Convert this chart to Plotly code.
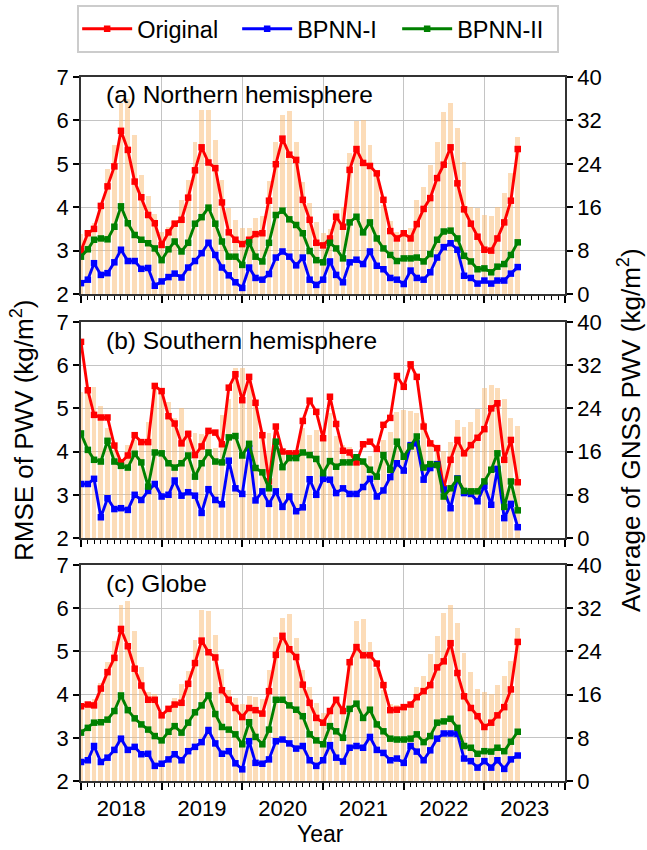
import pandas as pd
import plotly.graph_objects as go

months = pd.date_range("2018-01-01", periods=66, freq="MS")

nh_original = [3.0, 3.4, 3.5, 4.03, 4.48, 4.94, 5.76, 5.32, 4.59, 4.23, 3.82, 3.63, 3.13, 3.42, 3.62, 3.71, 4.22, 4.85, 5.38, 5.03,
               4.9, 4.11, 3.42, 3.25, 3.15, 3.25, 3.38, 3.4, 4.15, 4.99, 5.58, 5.21, 5.09,
               4.17, 3.71, 3.18, 3.12, 3.28, 3.78, 3.55, 4.86, 5.34, 5.02, 4.95, 4.78, 4.17, 3.45, 3.28, 3.4, 3.28, 3.61, 3.96,
               4.21, 4.67, 4.98, 5.38, 4.55, 3.95, 3.62, 3.32, 3.02, 3.0, 3.28, 3.65, 4.15, 5.34]
nh_bpnn1 = [2.25, 2.33, 2.71, 2.44, 2.48, 2.73, 3.02, 2.76, 2.76, 2.58, 2.6, 2.19, 2.29, 2.39, 2.47, 2.38, 2.61, 2.76, 2.94, 3.18,
            2.9, 2.61, 2.43, 2.27, 2.14, 2.61, 2.37, 2.33, 2.46, 2.84, 2.98, 2.86, 2.66, 2.84,
            2.33, 2.21, 2.33, 2.75, 2.44, 2.27, 2.73, 2.79, 2.69, 2.98, 2.65, 2.57, 2.37, 2.33, 2.23, 2.54, 2.37, 2.33, 2.5, 2.84,
            3.08, 3.17, 3.02, 2.42, 2.37, 2.24, 2.31, 2.24, 2.31, 2.31, 2.47, 2.62]
nh_bpnn2 = [2.86, 3.03, 3.25, 3.28, 3.26, 3.55, 4.02, 3.63, 3.36, 3.25, 3.17, 3.05, 2.78, 3.03, 3.21, 2.98, 3.18, 3.62, 3.77, 3.99,
            3.62, 3.21, 2.86, 2.86, 2.67, 3.19, 2.86, 2.75, 3.18, 3.82, 3.92, 3.72, 3.59,
            3.4, 2.99, 2.78, 2.73, 3.18, 3.05, 2.82, 3.65, 3.78, 3.42, 3.65, 3.28, 3.05, 2.9, 2.76, 2.82, 2.82, 2.84, 2.75, 2.92,
            3.25, 3.44, 3.46, 3.28, 2.88, 2.75, 2.57, 2.59, 2.5, 2.63, 2.69, 2.9, 3.19]
nh_pwv = [11, 11.5, 13, 16.7, 23, 27.5, 35.2, 36, 29.4, 22, 18, 14.8, 11.5, 12.4, 13.7, 17.4, 21, 28, 34, 34,
          28.4, 21, 15.8, 13.7, 12.1, 12.1, 14, 14.4, 20.9, 28.1, 33, 33.7, 28,
          20.7, 16.7, 13.2, 11.3, 12, 15.5, 16.1, 26, 31.8, 32, 27.5, 21.7, 16.4, 13.5, 11.5, 11.2, 12.1, 17.4, 19.8, 23.8,
          28.1, 33.5, 35.2, 30.6, 24.4, 16, 15.8, 14.6, 14.3, 16.1, 18.6, 22.3, 28.9]

sh_original = [6.54, 5.42, 4.85, 4.79, 4.79, 4.14, 3.75, 3.91, 4.38, 4.22, 4.22, 5.52, 5.4, 4.82, 4.65, 4.19, 4.41, 3.92, 4.12, 4.48,
               4.44, 4.17, 5.48, 5.79, 5.19, 5.73, 5.13, 4.38, 3.31, 4.58, 4.0, 3.96, 3.96,
               4.71, 5.18, 4.92, 4.31, 5.27, 4.64, 4.02, 3.98, 3.75, 4.17, 4.23, 4.06, 4.62, 4.78, 5.75, 5.5, 6.02, 5.73, 4.58,
               4.19, 4.08, 3.15, 3.81, 4.27, 3.96, 4.15, 4.32, 4.52, 5.0, 5.12, 3.81, 4.27, 3.29]
sh_bpnn1 = [3.25, 3.25, 3.37, 2.48, 2.92, 2.67, 2.69, 2.65, 3.0, 2.88, 3.09, 3.25, 2.96, 3.0, 3.33, 2.98, 3.06, 2.98, 2.58, 3.13,
            2.88, 2.78, 3.79, 3.15, 3.02, 4.08, 2.87, 3.08, 2.79, 3.08, 2.72, 2.96, 2.62, 2.71,
            3.36, 3.0, 3.37, 3.35, 3.04, 3.15, 3.02, 3.02, 3.18, 3.37, 2.96, 3.1, 3.41, 3.73, 3.56, 4.15, 4.19, 3.35, 3.62, 3.71,
            3.12, 2.69, 3.38, 3.04, 3.02, 2.85, 3.21, 2.77, 3.6, 2.46, 2.79, 2.25]
sh_bpnn2 = [4.42, 4.04, 3.81, 3.77, 4.25, 3.77, 3.67, 3.63, 3.95, 3.75, 3.19, 3.98, 3.96, 3.73, 3.63, 3.73, 3.91, 3.42, 3.73, 3.98,
            3.77, 3.75, 4.33, 4.36, 3.91, 4.18, 3.62, 3.52, 3.15, 4.23, 3.64, 3.85, 3.85,
            3.98, 3.92, 3.83, 3.5, 3.78, 3.65, 3.75, 3.75, 3.87, 3.77, 3.58, 3.42, 3.92, 3.58, 4.23, 3.88, 4.12, 4.35, 3.63,
            3.71, 3.69, 2.96, 3.15, 3.37, 3.09, 3.08, 3.08, 3.31, 3.58, 3.96, 2.72, 3.31, 2.64]
sh_pwv = [27, 28, 28, 24.4, 20.3, 16.3, 14.2, 17.2, 18.2, 18.2, 21.5, 27.7, 26.6, 25.2, 22.3, 24, 20, 19.4, 19.3, 19.7,
          16.6, 22.8, 25.8, 31.4, 31.4, 29.8, 24.9, 19.1, 19.4, 17.2, 15.4, 15.1, 15.7,
          20.3, 19.1, 20, 19.1, 23.1, 18.8, 17.2, 16.9, 15.1, 14.5, 15.1, 15.7, 18.2, 19.7, 23.4, 23.7, 23.5, 23.2, 21.5,
          17.8, 17.2, 16.2, 17.8, 21.8, 20.6, 21.5, 23.8, 27.7, 28.4, 27.7, 25.8, 22.2, 20.7]

gl_original = [3.73, 3.77, 3.75, 4.14, 4.52, 4.85, 5.52, 5.12, 4.6, 4.21, 3.88, 3.88, 3.52, 3.67, 3.77, 3.81, 4.25, 4.73, 5.25, 4.98,
               4.86, 4.1, 3.88, 3.69, 3.48, 3.69, 3.64, 3.56, 4.08, 4.92, 5.36, 5.05, 4.87,
               4.23, 3.81, 3.46, 3.35, 3.62, 3.88, 3.62, 4.75, 5.1, 4.91, 4.91, 4.72, 4.22, 3.64, 3.65, 3.71, 3.77, 3.94, 4.08,
               4.22, 4.63, 4.77, 5.19, 4.5, 3.96, 3.69, 3.5, 3.25, 3.35, 3.52, 3.71, 4.12, 5.22]
gl_bpnn1 = [2.44, 2.48, 2.81, 2.44, 2.54, 2.72, 2.98, 2.72, 2.79, 2.62, 2.63, 2.35, 2.4, 2.5, 2.62, 2.48, 2.69, 2.79, 2.9, 3.18,
            2.87, 2.63, 2.69, 2.41, 2.27, 2.92, 2.42, 2.4, 2.5, 2.92, 2.96, 2.87, 2.75,
            2.81, 2.48, 2.35, 2.48, 2.83, 2.54, 2.45, 2.77, 2.81, 2.77, 3.02, 2.72, 2.65, 2.48, 2.52, 2.42, 2.81, 2.68, 2.48,
            2.71, 2.98, 3.1, 3.1, 3.09, 2.52, 2.46, 2.31, 2.46, 2.31, 2.48, 2.28, 2.5, 2.59]
gl_bpnn2 = [3.12, 3.23, 3.35, 3.36, 3.42, 3.62, 3.98, 3.64, 3.45, 3.31, 3.19, 3.04, 2.94, 3.14, 3.27, 3.12, 3.35, 3.59, 3.75, 3.98,
            3.55, 3.25, 3.19, 3.08, 2.85, 3.36, 3.02, 2.85, 3.19, 3.88, 3.88, 3.75, 3.65,
            3.5, 3.08, 2.94, 2.85, 3.27, 3.15, 3.0, 3.67, 3.79, 3.46, 3.65, 3.31, 3.15, 2.98, 2.96, 2.96, 2.98, 3.08, 2.9,
            3.04, 3.35, 3.38, 3.44, 3.23, 2.81, 2.77, 2.63, 2.69, 2.68, 2.77, 2.69, 2.91, 3.14]
gl_pwv = [14.5, 14.6, 15.2, 18.2, 22, 26, 32.6, 33.4, 27.7, 21.2, 16.4, 16.1, 12.6, 13.8, 15.3, 18, 20.4, 26.2, 31.6, 31.4,
          27.1, 20.7, 16.9, 15.4, 14.2, 15.7, 15.5, 15.2, 20.6, 26.6, 30.2, 30.9, 26.5,
          20.6, 17.5, 14.5, 12.6, 13.2, 14.5, 13.8, 22, 29.7, 30, 25.8, 20.9, 16.8, 14.3, 14, 14.2, 13.7, 17.5, 19.5,
          23.5, 26.8, 31.1, 32.6, 29.2, 23.7, 20.2, 17.1, 16.5, 16.2, 17.7, 19.5, 22.3, 28.3]

panel_titles = ["(a) Northern hemisphere", "(b) Southern hemisphere", "(c) Globe"]
series_names = ["Original", "BPNN-I", "BPNN-II"]
series_colors = ["#ff0000", "#0000ff", "#008000"]
rmse_ticks = [2, 3, 4, 5, 6, 7]
pwv_ticks = [0, 8, 16, 24, 32, 40]

panels = [
    (nh_original, nh_bpnn1, nh_bpnn2, nh_pwv),
    (sh_original, sh_bpnn1, sh_bpnn2, sh_pwv),
    (gl_original, gl_bpnn1, gl_bpnn2, gl_pwv),
]

FONT = "Liberation Sans, Arial, sans-serif"
W, H = 647, 850
ML, MR, MT, MB = 81, 82, 77, 69
plot_w = W - ML - MR
plot_h = H - MT - MB
panel_px = [(77, 294), (322, 538), (565, 781)]
domains = [[(781 - b) / plot_h, (781 - t) / plot_h] for t, b in panel_px]

SPINE = "#333333"
GRID = "#c4c4c4"

fig = go.Figure()
bar_width_ms = 0.72 * 30.44 * 86400000

for i, (orig, b1, b2, pwv) in enumerate(panels):
    xa = "x" if i == 0 else f"x{i+1}"
    ybar = "y" if i == 0 else f"y{2*i+1}"
    yline = f"y{2*i+2}"
    fig.add_trace(go.Bar(x=months, y=pwv, xaxis=xa, yaxis=ybar, width=bar_width_ms,
                         marker=dict(color="rgba(250,186,114,0.5)", line=dict(width=0)),
                         showlegend=False, hoverinfo="skip"))
    for name, vals, col in zip(series_names, (orig, b1, b2), series_colors):
        fig.add_trace(go.Scatter(x=months, y=vals, xaxis=xa, yaxis=yline, mode="lines+markers",
                                 name=name, legendgroup=name, showlegend=(i == 0),
                                 line=dict(color=col, width=2.9),
                                 marker=dict(symbol="square", size=6.5, color=col)))

layout = dict(
    template="none",
    width=W, height=H, autosize=False,
    margin=dict(l=ML, r=MR, t=MT, b=MB, pad=0, autoexpand=False),
    paper_bgcolor="white", plot_bgcolor="white",
    font=dict(family=FONT, size=22, color="black"),
    bargap=0,
    legend=dict(orientation="h", x=0.49, xanchor="center", y=1 + (MT - 5) / plot_h, yanchor="top",
                bordercolor="#cccccc", borderwidth=2, bgcolor="white",
                font=dict(family=FONT, size=23.5), itemwidth=50, entrywidth=95, tracegroupgap=0),
)

for i in range(3):
    xkey = "xaxis" if i == 0 else f"xaxis{i+1}"
    ybar_key = "yaxis" if i == 0 else f"yaxis{2*i+1}"
    yline_key = f"yaxis{2*i+2}"
    ybar_ref = "y" if i == 0 else f"y{2*i+1}"
    xref = "x" if i == 0 else f"x{i+1}"
    layout[xkey] = dict(
        type="date", domain=[0, 1], anchor=ybar_ref, automargin=False,
        range=["2018-01-01", "2024-01-01"],
        tick0="2018-01-01", dtick="M12", tickformat="%Y", ticklabelmode="period",
        ticks="outside", ticklen=7, tickwidth=1.5, tickcolor="black",
        showticklabels=(i == 2), tickfont=dict(size=22),
        showgrid=True, gridcolor=GRID, gridwidth=1,
        showline=True, linecolor=SPINE, linewidth=1.8, mirror=True,
        minor=dict(dtick="M1", ticks="outside", ticklen=4, tickwidth=1, tickcolor="black", showgrid=False),
        zeroline=False,
    )
    layout[ybar_key] = dict(
        domain=domains[i], anchor=xref, side="right", range=[0, 40], automargin=False,
        tickvals=pwv_ticks, ticks="outside", ticklen=6, tickwidth=1.5, tickcolor="black",
        showgrid=True, gridcolor=GRID, gridwidth=1,
        showline=True, linecolor=SPINE, linewidth=1.8, zeroline=False,
        tickfont=dict(size=22),
    )
    layout[yline_key] = dict(
        overlaying=ybar_ref, anchor=xref, side="left", range=[2, 7], automargin=False,
        tickvals=rmse_ticks, ticks="outside", ticklen=6, tickwidth=1.5, tickcolor="black",
        showgrid=False, showline=True, linecolor=SPINE, linewidth=1.8, zeroline=False,
        tickfont=dict(size=22),
    )

fig.update_layout(**layout)

label_y = [95, 340, 583]
for t, ly in zip(panel_titles, label_y):
    fig.add_annotation(text=t, xref="paper", yref="paper", x=(104 - ML) / plot_w,
                       y=(781 - ly) / plot_h, xanchor="left", yanchor="middle", showarrow=False,
                       font=dict(family=FONT, size=24.5))

fig.add_annotation(text="RMSE of PWV (kg/m<sup>2</sup>)", xref="paper", yref="paper",
                   x=(22 - ML) / plot_w, y=(781 - 430) / plot_h, textangle=-90,
                   xanchor="center", yanchor="middle", showarrow=False, font=dict(family=FONT, size=26))
fig.add_annotation(text="Average of GNSS PWV (kg/m<sup>2</sup>)", xref="paper", yref="paper",
                   x=(629 - ML) / plot_w, y=(781 - 430) / plot_h, textangle=-90,
                   xanchor="center", yanchor="middle", showarrow=False, font=dict(family=FONT, size=26))
fig.add_annotation(text="Year", xref="paper", yref="paper",
                   x=(320 - ML) / plot_w, y=(781 - 834) / plot_h,
                   xanchor="center", yanchor="middle", showarrow=False, font=dict(family=FONT, size=23))

fig.write_html("out.html", config={"displayModeBar": False},
               post_script="document.body.style.margin='0px';document.body.style.padding='0px';"
                           "document.body.style.overflow='hidden';")
